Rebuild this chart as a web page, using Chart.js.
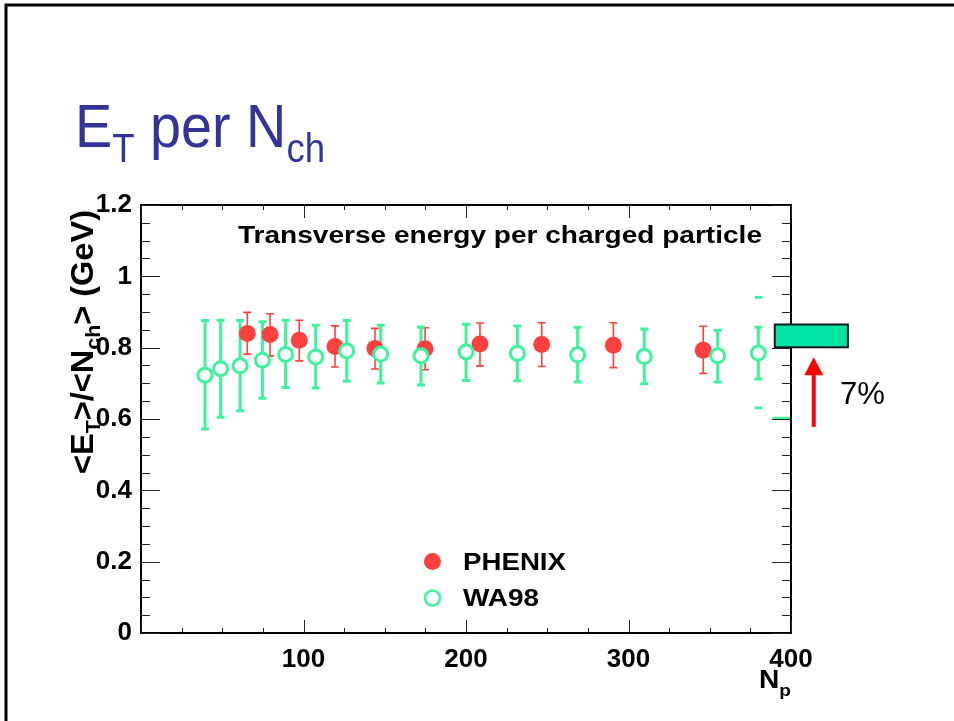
<!DOCTYPE html>
<html>
<head>
<meta charset="utf-8">
<title>ET per Nch</title>
<script src="https://cdn.jsdelivr.net/npm/chart.js@4.4.0/dist/chart.umd.min.js"></script>
<style>
  html, body { margin: 0; padding: 0; background: #fff; }
  canvas { display: block; }
</style>
</head>
<body>
<canvas id="etChart" width="954" height="721"></canvas>
<script>
// values
var phenixNp = [65.4, 79.4, 97.4, 119.4, 144, 174.8, 208.6, 246.6, 290.7, 346];
var phenixEt = [0.840, 0.837, 0.821, 0.803, 0.798, 0.797, 0.810, 0.809, 0.807, 0.793];
var phenixHi = [0.899, 0.895, 0.877, 0.861, 0.854, 0.856, 0.869, 0.870, 0.870, 0.860];
var phenixLo = [0.782, 0.777, 0.763, 0.746, 0.740, 0.738, 0.749, 0.747, 0.744, 0.728];

var wa98Np = [39.4, 49, 61, 74.7, 89, 107.5, 126.6, 147.5, 172.3, 200, 231.6, 268.7, 309.7, 354.9, 379.9];
var wa98Et = [0.723, 0.741, 0.749, 0.765, 0.781, 0.774, 0.791, 0.782, 0.777, 0.788, 0.784, 0.780, 0.775, 0.777, 0.785];
var wa98Hi = [0.876, 0.877, 0.876, 0.873, 0.877, 0.863, 0.876, 0.863, 0.858, 0.866, 0.861, 0.857, 0.852, 0.849, 0.857];
var wa98Lo = [0.572, 0.605, 0.623, 0.658, 0.688, 0.687, 0.706, 0.701, 0.695, 0.708, 0.707, 0.704, 0.699, 0.704, 0.712];

// little green dashes near the right edge
var sysNp = [380, 380, 394.5];
var sysEt = [0.941, 0.631, 0.602];

// systematic box and the 7% arrow
var boxNp = [390, 435];
var boxEt = [0.801, 0.865];
var arrowNp = 414;
var arrowEt = [0.578, 0.773];

var yTicks = [0, 0.2, 0.4, 0.6, 0.8, 1, 1.2];
var yTickLabels = ['0', '0.2', '0.4', '0.6', '0.8', '1', '1.2'];
var xTicks = [100, 200, 300, 400];
var xTickLabels = ['100', '200', '300', '400'];

var RED = '#ff4040';
var GREEN = '#3ff39c';
var FAMILY = '"Liberation Sans", Arial, Helvetica, sans-serif';

function points(xs, ys) {
    return xs.map(function (x, i) { return { x: x, y: ys[i] }; });
}

// parts: [text, size, shift]
function drawRich(ctx, parts, x, y, weight, color, fitWidth) {
    ctx.save();
    var w = 0;
    parts.forEach(function (p) {
        ctx.font = weight + ' ' + p[1] + 'px ' + FAMILY;
        w += ctx.measureText(p[0]).width;
    });
    ctx.translate(x, y);
    if (fitWidth) ctx.scale(fitWidth / w, 1);
    ctx.fillStyle = color;
    ctx.textAlign = 'left';
    ctx.textBaseline = 'alphabetic';
    var cx = 0;
    parts.forEach(function (p) {
        ctx.font = weight + ' ' + p[1] + 'px ' + FAMILY;
        ctx.fillText(p[0], cx, p[2]);
        cx += ctx.measureText(p[0]).width;
    });
    ctx.restore();
}

var errorBars = {
    id: 'errorBars',
    beforeDatasetsDraw: function (chart) {
        var ctx = chart.ctx, xs = chart.scales.x, ys = chart.scales.y;
        function bars(np, lo, hi, color, lw, cap) {
            ctx.save();
            ctx.strokeStyle = color;
            ctx.lineWidth = lw;
            np.forEach(function (n, i) {
                var px = xs.getPixelForValue(n);
                var a = ys.getPixelForValue(lo[i]);
                var b = ys.getPixelForValue(hi[i]);
                ctx.beginPath();
                ctx.moveTo(px, a); ctx.lineTo(px, b);
                ctx.moveTo(px - cap, a); ctx.lineTo(px + cap, a);
                ctx.moveTo(px - cap, b); ctx.lineTo(px + cap, b);
                ctx.stroke();
            });
            ctx.restore();
        }
        bars(phenixNp, phenixLo, phenixHi, RED, 1.6, 4);
        bars(wa98Np, wa98Lo, wa98Hi, GREEN, 3, 4);
    }
};

var decorations = {
    id: 'decorations',
    beforeDraw: function (chart) {
        var ctx = chart.ctx;
        ctx.save();
        ctx.fillStyle = '#fff';
        ctx.fillRect(0, 0, chart.width, chart.height);
        // slide border
        ctx.strokeStyle = '#000';
        ctx.lineWidth = 3;
        ctx.beginPath();
        ctx.moveTo(6, chart.height + 2);
        ctx.lineTo(6, 5);
        ctx.lineTo(chart.width + 2, 5);
        ctx.stroke();
        ctx.restore();
        // slide title
        drawRich(ctx, [['E', 61, 0], ['T', 40, 15], [' per N', 61, 0], ['ch', 40, 15]],
            75, 147, 'normal', '#333399', 250);
    },
    afterDraw: function (chart) {
        var ctx = chart.ctx, xs = chart.scales.x, ys = chart.scales.y;
        var a = chart.chartArea;
        ctx.save();
        // frame with ROOT style inward ticks
        ctx.strokeStyle = '#000';
        ctx.lineWidth = 2;
        ctx.strokeRect(a.left, a.top, a.right - a.left, a.bottom - a.top);
        ctx.lineWidth = 1;
        ctx.strokeStyle = '#222';
        ctx.beginPath();
        var v, p, len;
        for (v = 0; v <= 1.2001; v += 0.05) {
            p = Math.round(ys.getPixelForValue(v)) + 0.5;
            len = Math.abs(v / 0.2 - Math.round(v / 0.2)) < 1e-6 ? 19 : 9;
            ctx.moveTo(a.left, p); ctx.lineTo(a.left + len, p);
            ctx.moveTo(a.right, p); ctx.lineTo(a.right - len, p);
        }
        for (v = 0; v <= 400.01; v += 25) {
            p = Math.round(xs.getPixelForValue(v)) + 0.5;
            len = v % 100 === 0 ? 13 : 5;
            ctx.moveTo(p, a.bottom); ctx.lineTo(p, a.bottom - len);
            ctx.moveTo(p, a.top); ctx.lineTo(p, a.top + len);
        }
        ctx.stroke();
        ctx.restore();

        // inner title
        drawRich(ctx, [['Transverse energy per charged particle', 23, 0]], 238, 243, 'bold', '#000', 524);

        // axis titles
        ctx.save();
        ctx.translate(93, 474);
        ctx.rotate(-Math.PI / 2);
        drawRich(ctx, [['<E', 32, 0], ['T', 21, 7], ['>/<N', 32, 0], ['ch', 21, 7], ['> (GeV)', 32, 0]],
            0, 0, 'bold', '#000', 264);
        ctx.restore();
        drawRich(ctx, [['N', 25, 0], ['p', 17, 8]], 759, 688, 'bold', '#000', 32);

        // legend
        var items = [
            { label: chart.data.datasets[1].label, y: 561.5, fill: RED, stroke: null },
            { label: chart.data.datasets[0].label, y: 598, fill: '#fff', stroke: GREEN }
        ];
        items.forEach(function (it) {
            ctx.save();
            ctx.beginPath();
            ctx.arc(432.5, it.y, it.stroke ? 7.5 : 8.5, 0, Math.PI * 2);
            ctx.fillStyle = it.fill;
            ctx.fill();
            if (it.stroke) {
                ctx.lineWidth = 2.6;
                ctx.strokeStyle = it.stroke;
                ctx.stroke();
            }
            ctx.restore();
        });
        drawRich(ctx, [[items[0].label, 24, 0]], 463, 570, 'bold', '#000', 103);
        drawRich(ctx, [[items[1].label, 24, 0]], 463, 606, 'bold', '#000', 76);

        // systematic box
        var bx0 = xs.getPixelForValue(boxNp[0]), bx1 = xs.getPixelForValue(boxNp[1]);
        var by0 = ys.getPixelForValue(boxEt[1]), by1 = ys.getPixelForValue(boxEt[0]);
        ctx.save();
        ctx.fillStyle = '#00e3a3';
        ctx.fillRect(bx0, by0, bx1 - bx0, by1 - by0);
        ctx.strokeStyle = '#1a1a1a';
        ctx.lineWidth = 2;
        ctx.strokeRect(bx0, by0, bx1 - bx0, by1 - by0);

        // arrow
        var ax = xs.getPixelForValue(arrowNp);
        var aBot = ys.getPixelForValue(arrowEt[0]);
        var aTip = ys.getPixelForValue(arrowEt[1]);
        ctx.strokeStyle = '#ff0000';
        ctx.fillStyle = '#ff0000';
        ctx.lineWidth = 4;
        ctx.beginPath();
        ctx.moveTo(ax, aBot);
        ctx.lineTo(ax, aTip + 16);
        ctx.stroke();
        ctx.beginPath();
        ctx.moveTo(ax, aTip);
        ctx.lineTo(ax - 9.5, aTip + 18);
        ctx.lineTo(ax + 9.5, aTip + 18);
        ctx.closePath();
        ctx.fill();
        ctx.restore();
        drawRich(ctx, [['7%', 31, 0]], 840, 404, 'normal', '#000', 45);
    }
};

var ctx = document.getElementById('etChart').getContext('2d');
var tickFont = { family: FAMILY, size: 26, weight: 'bold' };

window.etChart = new Chart(ctx, {
    type: 'scatter',
    data: {
        datasets: [{
            label: 'WA98',
            data: points(wa98Np, wa98Et),
            pointStyle: 'circle',
            pointRadius: 7,
            pointBorderWidth: 3,
            borderColor: GREEN,
            backgroundColor: '#fff'
        }, {
            label: 'PHENIX',
            data: points(phenixNp, phenixEt),
            pointStyle: 'circle',
            pointRadius: 8.5,
            pointBorderWidth: 0,
            borderColor: RED,
            backgroundColor: RED
        }, {
            label: 'WA98 sys',
            data: points(sysNp, sysEt),
            pointStyle: 'line',
            pointRadius: [3.5, 3.5, 9.5],
            pointBorderWidth: 3,
            borderColor: GREEN,
            backgroundColor: GREEN
        }]
    },
    options: {
        responsive: false,
        animation: false,
        layout: { padding: { top: 205, right: 163, left: 0, bottom: 0 } },
        plugins: {
            legend: { display: false },
            tooltip: { enabled: false }
        },
        scales: {
            x: {
                type: 'linear',
                min: 0,
                max: 400,
                grid: { display: false, drawTicks: false },
                border: { display: false },
                afterFit: function (s) { s.height = 88; },
                afterBuildTicks: function (s) {
                    s.ticks = xTicks.map(function (v) { return { value: v }; });
                },
                ticks: {
                    padding: 11,
                    color: '#000',
                    font: tickFont,
                    autoSkip: false,
                    maxRotation: 0,
                    callback: function (value, index) { return xTickLabels[index]; }
                }
            },
            y: {
                type: 'linear',
                min: 0,
                max: 1.2,
                grid: { display: false, drawTicks: false },
                border: { display: false },
                afterFit: function (s) { s.width = 141; },
                afterBuildTicks: function (s) {
                    s.ticks = yTicks.map(function (v) { return { value: v }; });
                },
                ticks: {
                    padding: 9,
                    color: '#000',
                    font: tickFont,
                    autoSkip: false,
                    callback: function (value, index) { return yTickLabels[index]; }
                }
            }
        }
    },
    plugins: [errorBars, decorations]
});
</script>
</body>
</html>
